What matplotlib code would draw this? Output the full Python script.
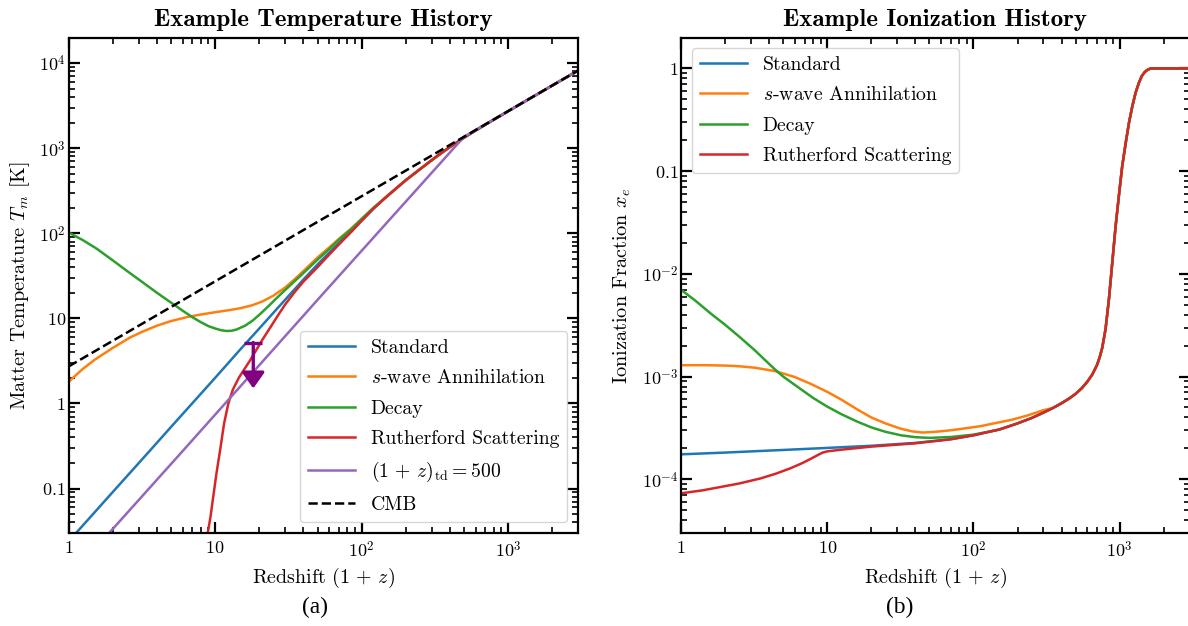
import numpy as np
import matplotlib
matplotlib.use("Agg")
import matplotlib.pyplot as plt
from matplotlib.ticker import FuncFormatter, LogLocator

plt.rcParams['font.family'] = ['cmr10', 'DejaVu Serif']
plt.rcParams['mathtext.fontset'] = 'cm'
plt.rcParams['axes.formatter.use_mathtext'] = True
plt.rcParams['axes.unicode_minus'] = False

# ---- temperature history (left panel) ----
# all models share the same high redshift tail
tail_z = [150, 200, 250, 300, 350, 400, 500, 600, 700, 1000, 2000, 3000]
tail_T = [275, 420, 566, 720, 877, 1030, 1330, 1615, 1893, 2720, 5450, 8175]

std_z = [1, 2, 3.6, 5, 10, 15, 20, 30, 40, 50, 60, 70, 85, 100, 120]
std_T = [0.024, 0.091, 0.281, 0.53, 2.0, 4.4, 7.6, 16.5, 28.5, 43, 59, 77, 107, 142, 195]

swave_z = [1, 1.25, 1.5, 2, 2.62, 3.2, 4, 5, 6.5, 8, 10, 12.5, 15, 18, 21, 25, 30, 35, 40,
           50, 60, 70, 85, 100, 120]
swave_T = [1.8, 2.55, 3.25, 4.5, 5.95, 7.0, 8.2, 9.3, 10.4, 11.1, 11.8, 12.5, 13.2, 14.3, 15.8,
           18.5, 23, 29, 36, 52, 68, 86, 114, 148, 198]

decay_z = [1, 1.25, 1.55, 2, 2.62, 3.2, 4, 5, 6, 7, 8, 9, 10, 11, 12, 13, 14, 16, 18, 20, 23,
           26, 30, 35, 40, 50, 60, 70, 85, 100, 120]
decay_T = [102, 83, 66, 48, 34, 26.5, 20, 15.3, 12.3, 10.3, 9.0, 8.1, 7.6, 7.25, 7.1, 7.15, 7.4,
           8.2, 9.4, 11, 13.8, 17, 21.5, 27.5, 34, 49, 65, 84, 112, 147, 198]

ruth_z = [8.6, 8.9, 9.3, 9.7, 10.2, 10.8, 11.5, 12.3, 13.2, 14.5, 16, 17.3, 19, 21, 24, 27, 30,
          35, 40, 50, 60, 70, 85, 100, 120]
ruth_T = [0.015, 0.03, 0.047, 0.08, 0.15, 0.28, 0.58, 1.0, 1.45, 2.0, 2.6, 3.2, 4.2, 5.6, 8.0,
          11, 14.5, 20.5, 27, 40, 56, 74, 104, 140, 193]

td_z = [1.5, 6.06, 50, 500, 1000, 3000]
td_T = [0.0193, 0.281, 16.5, 1362, 2725, 8175]

cmb_z = [1, 3000]
cmb_T = [2.725, 8175]

# upper limit arrow
lim_z = 18.2
lim_top = 5.2
lim_tip = 1.5

# ---- ionization history (right panel) ----
xe_tail_z = [350, 400, 450, 500, 550, 600, 650, 700, 730, 759, 800, 843, 890, 937, 990, 1040,
             1100, 1157, 1220, 1284, 1350, 1414, 1480, 1550, 1610, 1672, 2000, 3000]
xe_tail = [4.95e-4, 5.5e-4, 6.1e-4, 6.8e-4, 7.7e-4, 8.9e-4, 1.05e-3, 1.3e-3, 1.55e-3, 1.9e-3,
           2.9e-3, 5.6e-3, 0.013, 0.029, 0.06, 0.112, 0.19, 0.296, 0.43, 0.58, 0.72, 0.84,
           0.92, 0.97, 0.993, 1.0, 1.0, 1.0]

std_xz = [1, 2, 5, 10, 20, 40, 70, 100, 150, 200, 250, 300]
std_xe = [1.75e-4, 1.82e-4, 1.93e-4, 2.02e-4, 2.12e-4, 2.26e-4, 2.46e-4, 2.68e-4, 3.05e-4,
          3.5e-4, 3.95e-4, 4.45e-4]

swave_xz = [1, 1.5, 2, 2.5, 3.2, 4.4, 6, 7.7, 10, 12.4, 16, 20, 25, 32, 38, 45, 55, 70, 90,
            113, 145, 183, 230, 300]
swave_xe = [1.29e-3, 1.29e-3, 1.28e-3, 1.26e-3, 1.22e-3, 1.13e-3, 9.9e-4, 8.5e-4, 7.1e-4,
            6.0e-4, 4.8e-4, 4.0e-4, 3.5e-4, 3.1e-4, 2.93e-4, 2.85e-4, 2.9e-4, 3.0e-4, 3.15e-4,
            3.3e-4, 3.55e-4, 3.8e-4, 4.15e-4, 4.7e-4]

decay_xz = [1, 1.25, 1.6, 2.0, 2.5, 3.2, 4.0, 4.4, 5.0, 6.3, 8.0, 10, 12.5, 16, 20, 25, 32, 40,
            50, 70, 100, 150, 200, 250, 300]
decay_xe = [7.0e-3, 5.5e-3, 4.1e-3, 3.2e-3, 2.45e-3, 1.8e-3, 1.33e-3, 1.17e-3, 1.0e-3, 7.9e-4,
            6.2e-4, 5.1e-4, 4.3e-4, 3.65e-4, 3.2e-4, 2.9e-4, 2.68e-4, 2.57e-4, 2.53e-4, 2.58e-4,
            2.72e-4, 3.05e-4, 3.5e-4, 3.95e-4, 4.45e-4]

ruth_xz = [1, 1.4, 1.85, 2.5, 3.5, 4.5, 5.6, 6.7, 7.7, 8.6, 9.3, 10, 11, 12, 20, 40, 70, 100,
           150, 200, 250, 300]
ruth_xe = [7.3e-5, 7.8e-5, 8.4e-5, 9.1e-5, 1.02e-4, 1.14e-4, 1.28e-4, 1.43e-4, 1.58e-4,
           1.72e-4, 1.82e-4, 1.87e-4, 1.9e-4, 1.93e-4, 2.08e-4, 2.24e-4, 2.45e-4, 2.68e-4,
           3.05e-4, 3.5e-4, 3.95e-4, 4.45e-4]


def ticklabel(v, pos):
    e = int(round(np.log10(v)))
    if e == 0:
        return r'$1$'
    if e == 1:
        return r'$10$'
    if e == -1:
        return r'$0.1$'
    return r'$10^{%d}$' % e


def style_axis(ax):
    ax.set_xscale('log')
    ax.set_yscale('log')
    ax.set_xlim(1, 3000)
    for s in ax.spines.values():
        s.set_linewidth(1.6)
    ax.tick_params(which='both', direction='in', top=True, right=True, labelsize=13)
    ax.tick_params(which='major', length=8, width=1.6)
    ax.tick_params(which='minor', length=4.5, width=1.2)
    ax.tick_params(axis='x', which='major', pad=5)
    ax.tick_params(axis='y', which='major', pad=2)
    ax.xaxis.set_major_locator(LogLocator(base=10, numticks=10))
    ax.yaxis.set_major_locator(LogLocator(base=10, numticks=12))
    ax.xaxis.set_minor_locator(LogLocator(base=10, subs=np.arange(2, 10), numticks=20))
    ax.yaxis.set_minor_locator(LogLocator(base=10, subs=np.arange(2, 10), numticks=20))
    ax.xaxis.set_major_formatter(FuncFormatter(ticklabel))
    ax.yaxis.set_major_formatter(FuncFormatter(ticklabel))
    ax.set_xlabel(r'Redshift $(1\,+\,z)$', fontsize=14.4)
    ax.xaxis.set_label_coords(0.5, -0.067)


fig = plt.figure(figsize=(11.88, 6.26), dpi=100)
ax1 = fig.add_axes([68.7 / 1188, 1 - 533 / 626, (578 - 68.7) / 1188, (533 - 37.5) / 626])
ax2 = fig.add_axes([681 / 1188, 1 - 533 / 626, (1189.5 - 681) / 1188, (533 - 37.5) / 626])

lw = 1.8
ax1.plot(std_z + tail_z, std_T + tail_T, color='C0', lw=lw, label='Standard')
ax1.plot(swave_z + tail_z, swave_T + tail_T, color='C1', lw=lw, label=r'$s$-wave Annihilation')
ax1.plot(decay_z + tail_z, decay_T + tail_T, color='C2', lw=lw, label='Decay')
ax1.plot(ruth_z + tail_z, ruth_T + tail_T, color='C3', lw=lw, label='Rutherford Scattering')
ax1.plot(td_z, td_T, color='C4', lw=lw, label=r'$(1\,+\,z)_{\rm td} = 500$')
ax1.plot(cmb_z, cmb_T, color='k', ls='--', lw=lw, label='CMB')

ax1.annotate('', xy=(lim_z, lim_tip), xytext=(lim_z, lim_top),
             arrowprops=dict(arrowstyle='-|>,head_length=0.44,head_width=0.31',
                             color='purple', lw=2.4, shrinkA=0, shrinkB=0, mutation_scale=22))
ax1.plot([lim_z], [lim_top], marker='_', ms=13.5, mew=2.4, color='purple')

style_axis(ax1)
ax1.set_ylim(0.03, 2e4)
ax1.set_ylabel(r'Matter Temperature $T_m$ [K]', fontsize=14.6)
ax1.yaxis.set_label_coords(-0.072, 0.5)
ax1.set_title('Example Temperature History', fontsize=18, family='cmb10', pad=8)
ax1.legend(loc='lower right', fontsize=14.2, handlelength=2.4, labelspacing=0.62,
           borderaxespad=0.55, handletextpad=0.8, borderpad=0.4)

ax2.plot(std_xz + xe_tail_z, std_xe + xe_tail, color='C0', lw=lw, label='Standard')
ax2.plot(swave_xz + xe_tail_z, swave_xe + xe_tail, color='C1', lw=lw, label=r'$s$-wave Annihilation')
ax2.plot(decay_xz + xe_tail_z, decay_xe + xe_tail, color='C2', lw=lw, label='Decay')
ax2.plot(ruth_xz + xe_tail_z, ruth_xe + xe_tail, color='C3', lw=lw, label='Rutherford Scattering')

style_axis(ax2)
ax2.set_ylim(3e-5, 2)
ax2.set_ylabel(r'Ionization Fraction $x_e$', fontsize=14.6)
ax2.yaxis.set_label_coords(-0.094, 0.5)
ax2.set_title('Example Ionization History', fontsize=18, family='cmb10', pad=8)
ax2.legend(loc='upper left', fontsize=14.2, handlelength=2.4, labelspacing=0.62,
           borderaxespad=0.55, handletextpad=0.8, borderpad=0.4)

fig.text(315 / 1188, 1 - 607 / 626, '(a)', ha='center', va='center', fontsize=16.8,
         family='Liberation Serif')
fig.text(900 / 1188, 1 - 607 / 626, '(b)', ha='center', va='center', fontsize=16.8,
         family='Liberation Serif')

fig.savefig('out.png', dpi=100)
